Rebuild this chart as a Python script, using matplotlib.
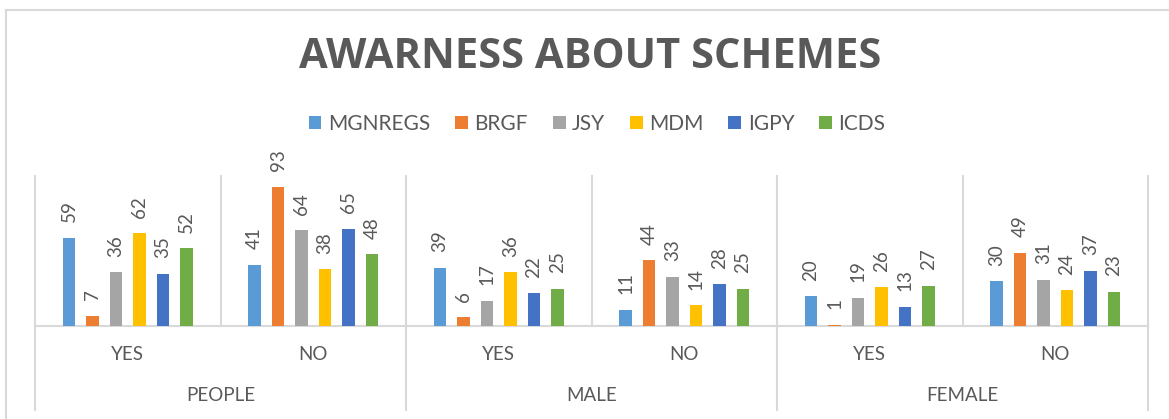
import matplotlib
matplotlib.use("Agg")
import matplotlib.pyplot as plt
from matplotlib.patches import Patch
from matplotlib.lines import Line2D
import matplotlib.transforms as mtrans
import numpy as np

# ---- data ----
groups = ["PEOPLE", "MALE", "FEMALE"]
subcats = ["YES", "NO", "YES", "NO", "YES", "NO"]
series = ["MGNREGS", "BRGF", "JSY", "MDM", "IGPY", "ICDS"]
MGNREGS = [59, 41, 39, 11, 20, 30]
BRGF = [7, 93, 6, 44, 1, 49]
JSY = [36, 64, 17, 33, 19, 31]
MDM = [62, 38, 36, 14, 26, 24]
IGPY = [35, 65, 22, 28, 13, 37]
ICDS = [52, 48, 25, 25, 27, 23]
values = [MGNREGS, BRGF, JSY, MDM, IGPY, ICDS]
colors = ["#5B9BD5", "#ED7D31", "#A5A5A5", "#FFC000", "#4472C4", "#70AD47"]
title = "AWARNESS ABOUT SCHEMES"

W, H = 1169, 419
fig = plt.figure(figsize=(W / 100, H / 100), dpi=100)
txt = "#595959"
grid = "#D9D9D9"
font = "Lato"

# plot area in pixels
L, R, T, B = 35, 1148, 176, 326
ax = fig.add_axes([L / W, 1 - B / H, (R - L) / W, (B - T) / H])
x = np.arange(len(subcats))
pitch = 0.1265
bw = 0.068
for i, (name, vals, c) in enumerate(zip(series, values, colors)):
    bars = ax.bar(x + (i - 2.5) * pitch, vals, width=bw, color=c, zorder=3)
    ax.bar_label(bars, labels=[str(v) for v in vals], rotation=90, padding=11,
                 fontsize=13.5, color=txt, family=font)

ax.set_xlim(-0.5, len(subcats) - 0.5)
ax.set_ylim(0, 100)
ax.set_xticks([])
ax.set_yticks([])
for s in ["top", "right", "left"]:
    ax.spines[s].set_visible(False)
ax.spines["bottom"].set_color(grid)
ax.spines["bottom"].set_linewidth(1.5)

# category gridlines (top to baseline)
for b in np.arange(-0.5, len(subcats), 1.0):
    ax.plot([b, b], [0, 100], color=grid, lw=1.5, zorder=1, clip_on=False)

# group separators extend below baseline
blend = mtrans.blended_transform_factory(ax.transData, fig.transFigure)
for b in [-0.5, 1.5, 3.5, 5.5]:
    ax.plot([b, b], [1 - B / H, 1 - 410 / H], color=grid, lw=1.5,
            transform=blend, clip_on=False)

# sub category labels
for xi, lab in zip(x, subcats):
    ax.text(xi, 1 - 354 / H, lab, transform=blend, ha="center", va="center",
            fontsize=13.5, color=txt, family=font)
for gi, g in enumerate(groups):
    ax.text(2 * gi + 0.5, 1 - 395 / H, g, transform=blend, ha="center",
            va="center", fontsize=13.5, color=txt, family=font)

# title
fig.text(590 / W, 1 - 57 / H, title, ha="center", va="center", fontsize=30,
         fontweight="bold", color=txt, family="Open Sans")

# legend
handles = [Patch(facecolor=c, edgecolor="none") for c in colors]
fig.legend(handles, series, loc="center", bbox_to_anchor=(597 / W, 1 - 124 / H),
           ncol=6, frameon=False, handlelength=0.62,
           handleheight=0.62, handletextpad=0.3, columnspacing=1.2,
           prop={"family": font, "size": 15}, labelcolor=txt)

# chart outer border
fig.add_artist(Line2D([6 / W, 1], [1 - 10 / H, 1 - 10 / H], color=grid, lw=1.5,
                      transform=fig.transFigure))
fig.add_artist(Line2D([6 / W, 6 / W], [1 - 10 / H, 0], color=grid, lw=1.5,
                      transform=fig.transFigure))

fig.savefig("out.png", dpi=100)
